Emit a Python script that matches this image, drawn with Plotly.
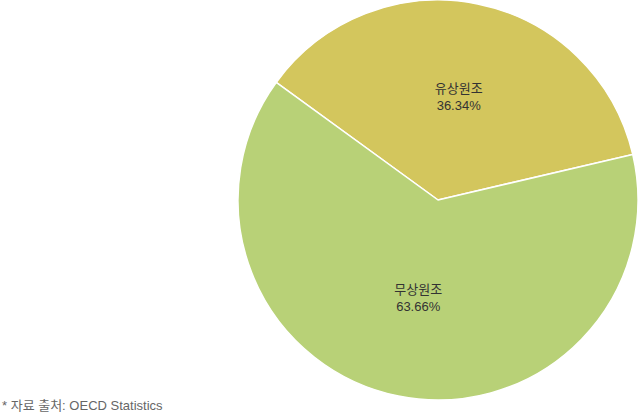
import plotly.graph_objects as go

labels = ['유상원조', '무상원조']
values = [36.34, 63.66]
colors = ['#d3c65d', '#b8d177']

fig = go.Figure()
fig.add_trace(go.Pie(
    labels=labels,
    values=values,
    sort=False,
    direction='clockwise',
    rotation=-54,
    marker=dict(colors=colors, line=dict(color='white', width=1.5)),
    texttemplate='%{label}<br>%{percent:.2%}',
    textposition='inside',
    insidetextorientation='horizontal',
    textfont=dict(family='Liberation Sans, Noto Sans CJK KR', size=13, color='#333333'),
    showlegend=False,
    hoverinfo='skip',
))

fig.add_annotation(
    text='* 자료 출처: OECD Statistics',
    xref='paper', yref='paper', x=-238 / 400, y=-15 / 400,
    xanchor='left', yanchor='bottom',
    showarrow=False,
    font=dict(family='Liberation Sans, Noto Sans CJK KR', size=13, color='#666666'),
)

fig.update_layout(
    width=638, height=415,
    margin=dict(l=238, r=0, t=0, b=15),
    paper_bgcolor='white',
    plot_bgcolor='white',
)
fig.write_html('out.html', config={'displayModeBar': False},
               post_script="document.body.style.margin='0';")
